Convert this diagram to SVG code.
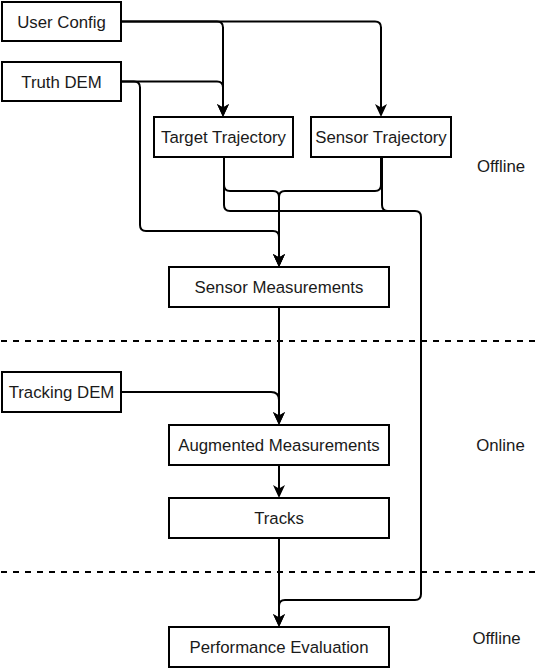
<svg xmlns="http://www.w3.org/2000/svg" width="543" height="668" viewBox="0 0 543 668">
<style>
.box{fill:#fff;stroke:#000;stroke-width:2}
.t{font-family:"Liberation Sans",Arial,sans-serif;font-size:16.8px;fill:#1a1a1a;text-anchor:middle}
.c{fill:none;stroke:#000;stroke-width:2}
.d{fill:none;stroke:#000;stroke-width:2;stroke-dasharray:6 6}
</style>
<defs>
<marker id="arr" markerUnits="userSpaceOnUse" markerWidth="14" markerHeight="13" refX="8" refY="6.5" orient="auto">
<path d="M0,0.5 L13,6.5 L0,12.5 L3.5,6.5 Z" fill="#000"/>
</marker>
</defs>
<rect width="543" height="668" fill="#fff"/>
<g id="dividers">
<line class="d" x1="1" y1="341" x2="537" y2="341"/>
<line class="d" x1="1" y1="572" x2="537" y2="572"/>
</g>
<g id="connectors">
<path class="c" d="M121,21.5 H217 q6,0 6,6 V112" marker-end="url(#arr)"/>
<path class="c" d="M121,21.5 H375 q6,0 6,6 V112" marker-end="url(#arr)"/>
<path class="c" d="M121,81.5 H217 q6,0 6,6 V112" marker-end="url(#arr)"/>
<path class="c" d="M121,81.5 H134 q6,0 6,6 V225 q0,6 6,6 H273 q6,0 6,6 V262" marker-end="url(#arr)"/>
<path class="c" d="M224,157 V185 q0,6 6,6 H273 q6,0 6,6 V262" marker-end="url(#arr)"/>
<path class="c" d="M381,157 V185 q0,6 -6,6 H285 q-6,0 -6,6 V262" marker-end="url(#arr)"/>
<path class="c" d="M224,157 V205 q0,6 6,6 H415 q6,0 6,6 V594 q0,6 -6,6 H285 q-6,0 -6,6 V622" marker-end="url(#arr)"/>
<path class="c" d="M382,157 V205 q0,6 6,6 H415" />
<path class="c" d="M279,307 V420" marker-end="url(#arr)"/>
<path class="c" d="M121,392 H271 q8,0 8,8 V420" marker-end="url(#arr)"/>
<path class="c" d="M279,465 V493" marker-end="url(#arr)"/>
<path class="c" d="M279,538 V622" marker-end="url(#arr)"/>
</g>
<g id="user-config"><rect class="box" x="2" y="2" width="119" height="39"/><text class="t" x="61.5" y="27.5">User Config</text></g>
<g id="truth-dem"><rect class="box" x="2" y="62" width="119" height="39"/><text class="t" x="61.5" y="87.5">Truth DEM</text></g>
<g id="target-trajectory"><rect class="box" x="154" y="117" width="139" height="40"/><text class="t" x="223.5" y="143">Target Trajectory</text></g>
<g id="sensor-trajectory"><rect class="box" x="311" y="117" width="140" height="40"/><text class="t" x="381" y="143">Sensor Trajectory</text></g>
<g id="sensor-measurements"><rect class="box" x="169" y="267" width="220" height="40"/><text class="t" x="279" y="293">Sensor Measurements</text></g>
<g id="tracking-dem"><rect class="box" x="2" y="372" width="119" height="40"/><text class="t" x="61.5" y="398">Tracking DEM</text></g>
<g id="augmented-measurements"><rect class="box" x="169" y="425" width="220" height="40"/><text class="t" x="279" y="451">Augmented Measurements</text></g>
<g id="tracks"><rect class="box" x="169" y="498" width="220" height="40"/><text class="t" x="279" y="524">Tracks</text></g>
<g id="performance-evaluation"><rect class="box" x="169" y="627" width="220" height="40"/><text class="t" x="279" y="653">Performance Evaluation</text></g>
<g id="labels">
<text class="t" x="501" y="172">Offline</text>
<text class="t" x="500.5" y="451">Online</text>
<text class="t" x="496.5" y="644">Offline</text>
</g>
</svg>
